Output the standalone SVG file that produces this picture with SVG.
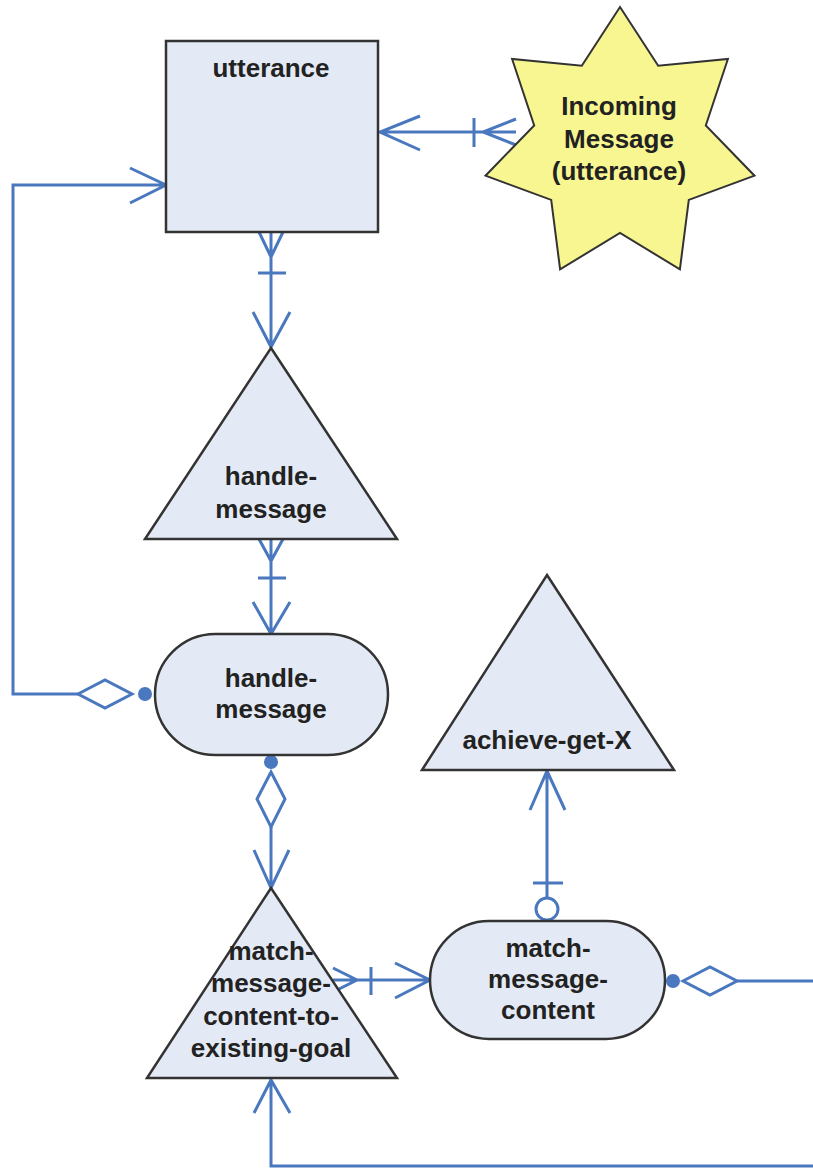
<svg xmlns="http://www.w3.org/2000/svg" width="813" height="1170" viewBox="0 0 813 1170">
<style>
.node{fill:#e4eaf5;stroke:#333;stroke-width:2.5}
.star{fill:#f8f690;stroke:#333;stroke-width:2}
.lbl{font-family:"Liberation Sans",Arial,sans-serif;font-weight:bold;font-size:26px;fill:#222;text-anchor:middle}
.c{fill:none;stroke:#4a78bf;stroke-width:3;stroke-linejoin:miter}
.dot{fill:#4a78bf;stroke:none}
.dia{fill:#fff;stroke:#4a78bf;stroke-width:3}
.circ{fill:#fff;stroke:#4a78bf;stroke-width:3}
</style>
<rect width="813" height="1170" fill="#fff"/>
<g id="connectors">
  <!-- star -> utterance -->
  <path class="c" d="M380,132 H516 M420,116 L380,132 L420,150 M474,118 V147 M516,119 L483,132 L516,145"/>
  <!-- utterance -> handle-message triangle -->
  <path class="c" d="M271,232 V347 M259,232 L271,257 L283,232 M258,273 H286 M253,312 L271,347 L290,312"/>
  <!-- triangle -> handle-message pill -->
  <path class="c" d="M271,539 V634 M259,539 L271,561 L283,539 M258,578 H286 M253,602 L271,634 L290,602"/>
  <!-- pill -> utterance loop -->
  <path class="c" d="M78,694 H13 V185 H166 M130,168 L166,185 L130,203"/>
  <polygon class="dia" points="78,694 105,680 132,694 105,708"/>
  <circle class="dot" cx="145" cy="694" r="7"/>
  <!-- pill -> match triangle -->
  <path class="c" d="M271,827 V888 M254,850 L271,888 L289,850"/>
  <polygon class="dia" points="271,772 285,799 271,827 257,799"/>
  <circle class="dot" cx="271" cy="762" r="7"/>
  <!-- match triangle -> match-message-content pill -->
  <path class="c" d="M333,980 H430 M333,968 L357,980 L333,992 M371,967 V995 M395,963 L430,980 L395,998"/>
  <!-- match-message-content -> achieve-get-X -->
  <path class="c" d="M547,898 V771 M530,810 L547,771 L565,810 M533,883 H563"/>
  <circle class="circ" cx="547" cy="909" r="11"/>
  <!-- match-message-content -> off right, back to match triangle -->
  <path class="c" d="M737,981 H813 M813,1166 H271 V1080 M254,1113 L271,1080 L290,1113"/>
  <polygon class="dia" points="683,981 710,967 737,981 710,995"/>
  <circle class="dot" cx="673" cy="981" r="7"/>
</g>
<g id="utterance">
  <rect class="node" x="166" y="41" width="212" height="191"/>
  <text class="lbl" x="271" y="77">utterance</text>
</g>
<g id="incoming-message">
  <polygon class="star" points="620,7 658.2,65.7 727.9,59 705.8,125.4 754.5,175.7 688.8,199.9 679.9,269.3 620,233 560.1,269.3 551.2,199.9 485.5,175.7 534.2,125.4 512.1,59 581.8,65.7"/>
  <text class="lbl" x="619" y="115">Incoming</text>
  <text class="lbl" x="619" y="148">Message</text>
  <text class="lbl" x="619" y="180">(utterance)</text>
</g>
<g id="handle-message-goal">
  <polygon class="node" points="271,348 397,539 145,539"/>
  <text class="lbl" x="271" y="485">handle-</text>
  <text class="lbl" x="271" y="518">message</text>
</g>
<g id="handle-message-plan">
  <rect class="node" x="155" y="634" width="233" height="121" rx="60.5" ry="60.5"/>
  <text class="lbl" x="271" y="687">handle-</text>
  <text class="lbl" x="271" y="718">message</text>
</g>
<g id="achieve-get-X">
  <polygon class="node" points="547,575 674,770 422,770"/>
  <text class="lbl" x="547" y="749">achieve-get-X</text>
</g>
<g id="match-message-content-to-existing-goal">
  <polygon class="node" points="271,888 397,1078 147,1078"/>
  <text class="lbl" x="271" y="960">match-</text>
  <text class="lbl" x="271" y="992">message-</text>
  <text class="lbl" x="271" y="1025">content-to-</text>
  <text class="lbl" x="271" y="1057">existing-goal</text>
</g>
<g id="match-message-content">
  <rect class="node" x="430" y="921" width="235" height="118" rx="59" ry="59"/>
  <text class="lbl" x="548" y="957">match-</text>
  <text class="lbl" x="548" y="988">message-</text>
  <text class="lbl" x="548" y="1019">content</text>
</g>
</svg>
